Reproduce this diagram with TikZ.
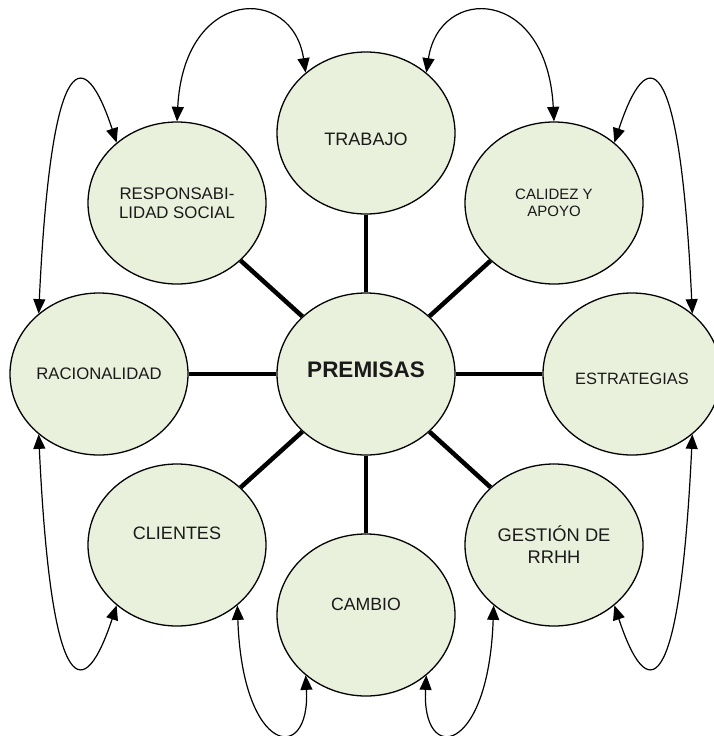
\documentclass[tikz,border=0pt]{standalone}
\usepackage{fontspec}
\setmainfont{Liberation Sans}
\usetikzlibrary{shapes.geometric,arrows.meta}
\definecolor{bubblefill}{HTML}{E9F0DC}
\definecolor{ink}{HTML}{1A1A1A}
\newcommand{\lift}[2]{\raisebox{#1}[\height][\depth]{#2}}

\begin{document}
\begin{tikzpicture}[x=1pt,y=-1pt,
  bubble/.style={ellipse,draw,line width=1.3pt,fill=bubblefill,minimum width=178pt,minimum height=162pt,inner sep=0pt,align=center,text=ink},
  spoke/.style={line width=4.5pt},
  tip/.tip={Triangle[length=14.5pt,width=12pt]},
  backlink/.style={draw,line width=1.2pt,tip-tip}]
\useasboundingbox (0,0) rectangle (713,736);
\def\xL{99}  \def\xl{177} \def\xc{366} \def\xr{554} \def\xR{632}
\def\yT{133} \def\yt{203} \def\yc{374} \def\yb{545} \def\yB{615}
  % centre and ring
\node[bubble,font=\bfseries\fontsize{22.5}{27}\selectfont] (prem) at (\xc,\yc) {\lift{4pt}{PREMISAS}};
\node[bubble,font=\fontsize{18}{22}\selectfont] (trab) at (\xc,\yT) {\lift{-6pt}{TRABAJO}};
\node[bubble,font=\fontsize{16.8}{19.5}\selectfont] (resp) at (\xl,\yt) {RESPONSABI-\\LIDAD SOCIAL};
\node[bubble,font=\fontsize{15}{17}\selectfont] (cali) at (\xr,\yt) {CALIDEZ Y\\APOYO};
\node[bubble,font=\fontsize{16.7}{20}\selectfont] (raci) at (\xL,\yc) {RACIONALIDAD};
\node[bubble,font=\fontsize{16.4}{20}\selectfont] (estr) at (\xR,\yc) {\lift{-5pt}{ESTRATEGIAS}};
\node[bubble,font=\fontsize{18}{22}\selectfont] (clie) at (\xl,\yb) {\lift{12pt}{CLIENTES}};
\node[bubble,font=\fontsize{17.7}{22}\selectfont] (camb) at (\xc,\yB) {\lift{11pt}{CAMBIO}};
\node[bubble,font=\fontsize{18.3}{22}\selectfont] (gest) at (\xr,\yb) {GESTIÓN DE\\RRHH};

\foreach \n in {trab,cali,estr,gest,camb,clie,raci,resp}
  \draw[spoke] (prem) -- (\n);

  % arcs between neighbours
\draw[backlink] (resp.90) .. controls +(7,-135) and +(-13,-88) .. (trab.135);
\draw[backlink] (trab.45) .. controls +(13,-88) and +(-7,-135) .. (cali.90);
\draw[backlink] (raci.135) .. controls +(13,-273) and +(-32,-97) .. (resp.135);
\draw[backlink] (estr.45) .. controls +(-13,-273) and +(32,-97) .. (cali.45);
\draw[backlink] (raci.225) .. controls +(13,273) and +(-32,97) .. (clie.225);
\draw[backlink] (estr.315) .. controls +(-13,273) and +(32,97) .. (gest.315);
\draw[backlink] (clie.315) .. controls +(5,150) and +(5,90) .. (camb.225);
\draw[backlink] (camb.315) .. controls +(-5,90) and +(-5,150) .. (gest.225);
\end{tikzpicture}
\end{document}
